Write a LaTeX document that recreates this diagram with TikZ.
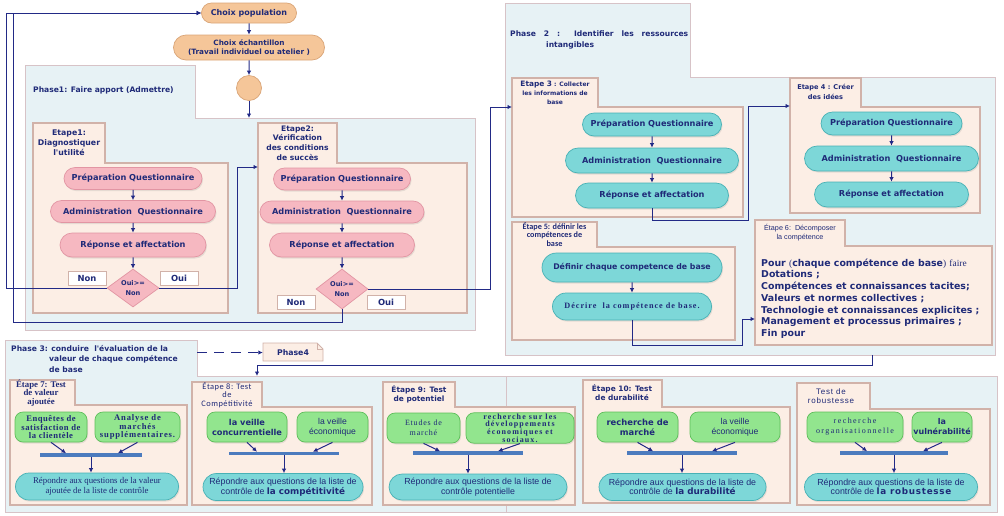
\documentclass[tikz,border=0pt]{standalone}
\usepackage{fontspec}
\setmainfont{Liberation Serif}
\setsansfont{Liberation Sans}
\newfontfamily\vsans{DejaVu Sans}
\newfontfamily\csans{Carlito}
\usetikzlibrary{shapes.geometric, shapes.misc, arrows.meta, shadows}

\definecolor{navy}{HTML}{1F2A78}
\definecolor{linkblue}{HTML}{222A86}
\definecolor{peachfill}{HTML}{F5C699}
\definecolor{peachline}{HTML}{D9A477}
\definecolor{panelfill}{HTML}{E7F2F5}
\definecolor{panelline}{HTML}{D7C3C7}
\definecolor{etapefill}{HTML}{FCEEE5}
\definecolor{etapeline}{HTML}{D1B2A9}
\definecolor{pinkfill}{HTML}{F6B8C1}
\definecolor{pinkline}{HTML}{E295A3}
\definecolor{tealfill}{HTML}{7DD7D8}
\definecolor{tealline}{HTML}{48B1B5}
\definecolor{greenfill}{HTML}{92E58E}
\definecolor{greenline}{HTML}{5EBE5A}
\definecolor{barblue}{HTML}{4C7BBE}

\newcommand{\fsz}[2]{\fontsize{#1}{#2}\selectfont}
\newcommand{\lsp}[1]{\addfontfeature{LetterSpace=#1}}
\newcommand{\folder}[7]{\draw[#1] (#2,#3) -- (#4,#3) -- (#4,#5) -- (#6,#5) -- (#6,#7) -- (#2,#7) -- cycle;}

\tikzset{
    panel/.style={draw=panelline, fill=panelfill, line width=0.9pt},
    etape/.style={draw=etapeline, fill=etapefill, line width=1.3pt},
    tabtext/.style={text=navy, align=center, inner sep=0pt},
    phasetext/.style={text=navy, align=left, inner sep=0pt, font=\vsans\bfseries\fsz{7.6}{10.6}},
    peach/.style={rounded rectangle, draw=peachline, fill=peachfill, line width=0.7pt, text=navy, align=center, inner sep=1pt, font=\vsans\bfseries\fsz{8}{10}},
    pill/.style={rounded rectangle, line width=0.7pt, text=navy, align=center, inner sep=1pt, drop shadow={opacity=0.18, shadow xshift=1pt, shadow yshift=-1.5pt}},
    pinkpill/.style={pill, draw=pinkline, fill=pinkfill, minimum height=22pt, font=\vsans\bfseries\fsz{8.2}{10}},
    tealpill/.style={pill, draw=tealline, fill=tealfill, minimum height=24pt, font=\vsans\bfseries\fsz{8.2}{10}},
    answerpill/.style={pill, draw=tealline, fill=tealfill, minimum height=26pt, font=\sffamily\fsz{8.8}{9.6}},
    greenbox/.style={rectangle, rounded corners=8pt, draw=greenline, fill=greenfill, line width=0.7pt, text=navy, align=center, inner sep=1pt, minimum height=30pt, drop shadow={opacity=0.18, shadow xshift=1pt, shadow yshift=-1.5pt}},
    choice/.style={diamond, draw=pinkline, fill=pinkfill, line width=0.7pt, minimum width=52pt, minimum height=38pt, inner sep=0pt},
    choicetext/.style={text=navy, align=center, inner sep=0pt, font=\vsans\bfseries\fsz{6.6}{9.5}},
    answer/.style={draw=etapeline, fill=white, text=navy, line width=0.6pt, minimum width=38pt, minimum height=14pt, inner sep=0pt, font=\vsans\bfseries\fsz{8.4}{10}},
    bar/.style={fill=barblue, minimum height=3.2pt, inner sep=0pt},
    link/.style={draw=linkblue, line width=1pt, -{Latex[length=4.5pt, width=4.5pt]}},
}

\begin{document}
\begin{tikzpicture}[x=1pt, y=-1pt]
    \useasboundingbox (0,0) rectangle (1004,515);

    % phases and etapes
    \folder{panel}{25}{65}{195}{118}{475}{330}
    \folder{panel}{505}{3}{690}{77}{995}{355}
    \folder{panel}{5}{340}{197}{376}{997}{512}
    \draw[panelline, line width=0.9pt] (506,376) -- (506,512);
    \folder{etape}{33}{123}{105}{163}{228}{313}
    \folder{etape}{258}{123}{337}{163}{467}{313}
    \folder{etape}{512}{78}{598}{107}{743}{217}
    \folder{etape}{790}{78}{861}{107}{980}{213}
    \folder{etape}{512}{222}{597}{247}{735}{340}
    \folder{etape}{755}{220}{845}{246}{992}{345}
    \folder{etape}{10}{380}{75}{405}{187}{505}
    \folder{etape}{192}{382}{262}{407}{372}{505}
    \folder{etape}{383}{382}{455}{407}{575}{505}
    \folder{etape}{583}{380}{662}{407}{790}{503}
    \folder{etape}{797}{383}{870}{409}{990}{505}

    \node[phasetext, anchor=west] (ph1) at (33,90) {Phase1: Faire apport (Admettre)};
    \node[phasetext, anchor=north west] (ph2) at (510,31) {\makebox[178pt][s]{Phase 2 : Identifier les ressources}\\\hspace*{36pt}intangibles};
    \node[phasetext, anchor=north west] (ph3) at (11,345) {Phase 3: conduire\ \ l'évaluation de la\\\hspace*{38pt}valeur de chaque compétence\\\hspace*{38pt}de base};

    \node[tabtext, font=\vsans\bfseries\fsz{7.8}{10}] (t1) at (69,143) {Etape1:\\Diagnostiquer\\l'utilité};
    \node[tabtext, font=\vsans\bfseries\fsz{7.6}{9.8}] (t2) at (297.5,143) {Etape2:\\Vérification\\des conditions\\de succès};
    \node[tabtext, font=\vsans\bfseries\fsz{6}{8.8}] (t3) at (555,92.5) {{\fsz{7.4}{8.8}Etape 3} : Collecter\\les informations de\\base};
    \node[tabtext, font=\vsans\bfseries\fsz{6.6}{9.2}] (t4) at (825.5,92) {Etape 4 : Créer\\des idées};
    \node[tabtext, font=\csans\bfseries\fsz{8.2}{8.6}] (t5) at (554.5,234.5) {Étape 5: définir les\\compétences de\\base};
    \node[tabtext, font=\sffamily\fsz{7.2}{9}] (t6) at (800,233) {Étape 6:\ \ Décomposer\\la compétence};
    \node[tabtext, font=\rmfamily\bfseries\fsz{8.8}{8.2}] (t7) at (41,393) {Étape 7: Test\\de valeur\\ajoutée};
    \node[tabtext, font=\csans\fsz{8.4}{8.3}\lsp{6}] (t8) at (227,395) {Étape 8: Test\\de\\Compétitivité};
    \node[tabtext, font=\vsans\bfseries\fsz{7.4}{9}] (t9) at (419,394) {Étape 9: Test\\de potentiel};
    \node[tabtext, font=\vsans\bfseries\fsz{7.4}{9}] (t10) at (622,393) {Étape 10: Test\\de durabilité};
    \node[tabtext, font=\sffamily\fsz{8}{9.5}\lsp{10}] (t11) at (831,396) {Test de\\robustesse};

    % choix
    \node[peach, minimum width=97pt, minimum height=20pt] (pop) at (249,13) {Choix population};
    \node[peach, minimum width=153pt, minimum height=25pt, font=\vsans\bfseries\fsz{7.3}{9.6}] (ech) at (249,47.5) {Choix échantillon\\(Travail individuel ou atelier )};
    \node[circle, draw=peachline, fill=peachfill, line width=0.7pt, minimum size=25pt, inner sep=0pt] (circ) at (249,88) {};
    \coordinate (ph1in) at (249,118);

    % etape 1 et 2
    \node[pinkpill, minimum width=140pt] (prep1) at (133,178.5) {Préparation Questionnaire};
    \node[pinkpill, minimum width=167pt] (admin1) at (133,211.5) {Administration\ \ Questionnaire};
    \node[pinkpill, minimum width=148pt, minimum height=24pt] (rep1) at (133,245) {Réponse et affectation};
    \node[choice] (dec1) at (133,288) {};
    \node[choicetext] (dec1t) at (dec1) {Oui>=\\Non};
    \node[answer] (non1) at (87,278) {Non};
    \node[answer] (oui1) at (179,278) {Oui};

    \node[pinkpill, minimum width=139pt] (prep2) at (342,179) {Préparation Questionnaire};
    \node[pinkpill, minimum width=166pt] (admin2) at (342,212) {Administration\ \ Questionnaire};
    \node[pinkpill, minimum width=147pt, minimum height=24pt] (rep2) at (342,245) {Réponse et affectation};
    \node[choice, minimum height=40pt] (dec2) at (342,289) {};
    \node[choicetext] (dec2t) at (dec2) {Oui>=\\Non};
    \node[answer] (non2) at (296,302) {Non};
    \node[answer] (oui2) at (386,302) {Oui};

    % etape 3 a 6
    \node[tealpill, minimum width=141pt, minimum height=23pt] (prep3) at (652,124.5) {Préparation Questionnaire};
    \node[tealpill, minimum width=175pt, minimum height=25pt] (admin3) at (652,160.5) {Administration\ \ Questionnaire};
    \node[tealpill, minimum width=155pt, minimum height=25pt] (rep3) at (652,195.5) {Réponse et affectation};

    \node[tealpill, minimum width=143pt, minimum height=23pt] (prep4) at (891.5,123.5) {Préparation Questionnaire};
    \node[tealpill, minimum width=176pt, minimum height=25pt] (admin4) at (891.5,158.5) {Administration\ \ Questionnaire};
    \node[tealpill, minimum width=156pt, minimum height=25pt] (rep4) at (891.5,194.5) {Réponse et affectation};

    \node[tealpill, minimum width=182pt, minimum height=29pt, font=\vsans\bfseries\fsz{7.8}{10}] (def5) at (632,267.5) {Définir chaque competence de base};
    \node[tealpill, minimum width=161pt, minimum height=27pt, font=\rmfamily\bfseries\fsz{8.2}{10}\lsp{12}] (des5) at (632,306.5) {Décrire\ \ la compétence de base.};

    \node[anchor=north west, align=left, text=navy, inner sep=0pt, font=\vsans\bfseries\fsz{9.4}{11.7}] (dec6) at (761,258.5) {Pour {\rmfamily\mdseries(}chaque compétence de base{\rmfamily\mdseries)} {\rmfamily\mdseries faire}\\Dotations ;\\Compétences et connaissances tacites;\\Valeurs et normes collectives ;\\Technologie et connaissances explicites ;\\Management et processus primaires ;\\Fin pour};

    % phase 3
    \draw[etapeline, fill=etapefill, line width=0.8pt] (263,343) -- (317,343) -- (323,349) -- (323,361) -- (263,361) -- cycle;
    \draw[etapeline, line width=0.6pt] (317,343) -- (317,349) -- (323,349);
    \node[minimum width=60pt, minimum height=17pt, inner sep=0pt, text=navy, font=\vsans\bfseries\fsz{7.8}{10}] (ph4) at (293,352.5) {Phase4};
    \coordinate (ph3out) at (197,352.5);

    \node[greenbox, minimum width=72pt, font=\rmfamily\bfseries\fsz{8.6}{7.8}\lsp{6}] (g7a) at (51,427) {Enquêtes de\\satisfaction de\\la clientèle};
    \node[greenbox, minimum width=85pt, font=\rmfamily\bfseries\fsz{8.6}{7.8}\lsp{10}] (g7b) at (137.5,427) {Analyse de\\marchés\\supplémentaires.};
    \node[bar, minimum width=102pt] (bar7) at (91,455) {};
    \node[answerpill, minimum width=165pt, minimum height=27pt, font=\rmfamily\fsz{8.8}{9.4}] (q7) at (97,486.5) {Répondre aux questions de la valeur\\ajoutée de la liste de contrôle};

    \node[greenbox, minimum width=80pt, font=\vsans\bfseries\fsz{8.2}{10}] (g8a) at (247,427) {la veille\\concurrentielle};
    \node[greenbox, minimum width=71pt, font=\sffamily\fsz{8.6}{10}] (g8b) at (332.5,427) {la veille\\économique};
    \node[bar, minimum width=110pt] (bar8) at (284,453.5) {};
    \node[answerpill, minimum width=162pt, minimum height=27pt] (q8) at (283,487) {Répondre aux questions de la liste de\\contrôle de {\vsans\bfseries la compétitivité}};

    \node[greenbox, minimum width=73pt, font=\rmfamily\fsz{8}{10.5}\lsp{10}] (g9a) at (423.5,428) {Etudes de\\marché};
    \node[greenbox, minimum width=108pt, font=\rmfamily\bfseries\fsz{8}{7.6}\lsp{14}] (g9b) at (520,428) {recherche sur les\\développements\\économiques et\\sociaux.};
    \node[bar, minimum width=110pt] (bar9) at (468,453) {};
    \node[answerpill, minimum width=180pt] (q9) at (478,487) {Répondre aux questions de la liste de\\contrôle potentielle};

    \node[greenbox, minimum width=81pt, font=\vsans\bfseries\fsz{8.4}{10}] (g10a) at (637.5,427) {recherche de\\marché};
    \node[greenbox, minimum width=90pt, font=\sffamily\fsz{8.6}{10}] (g10b) at (735,427) {la veille\\économique};
    \node[bar, minimum width=110pt] (bar10) at (682,453) {};
    \node[answerpill, minimum width=169pt, minimum height=27pt] (q10) at (682.5,487) {Répondre aux questions de la liste de\\contrôle de {\vsans\bfseries la durabilité}};

    \node[greenbox, minimum width=96pt, font=\rmfamily\fsz{8}{10}\lsp{18}] (g11a) at (855,427) {recherche\\organisationnelle};
    \node[greenbox, minimum width=60pt, font=\vsans\bfseries\fsz{8}{10}] (g11b) at (942,427) {la\\vulnérabilité};
    \node[bar, minimum width=108pt] (bar11) at (894,453) {};
    \node[answerpill, minimum width=175pt, minimum height=27pt] (q11) at (891,487) {Répondre aux questions de la liste de\\contrôle de {\vsans\bfseries\lsp{8}la robustesse}};

    % liens
    \foreach \a/\b in {pop/ech, ech/circ, circ/ph1in, prep1/admin1, admin1/rep1, rep1/dec1,
        prep2/admin2, admin2/rep2, rep2/dec2, prep3/admin3, admin3/rep3,
        prep4/admin4, admin4/rep4, def5/des5}
        \draw[link] (\a) -- (\b);

    \coordinate (e2in) at (258,167);
    \coordinate (e3in) at (512,107);
    \coordinate (e4in) at (790,106);
    \coordinate (e6in) at (755,319);
    \coordinate (p2out) at (872,355);
    \coordinate (p3in) at (257,376);
    \draw[link] (dec1.west) -- ++(-100,0) |- (pop.west);
    \draw[link] (dec2.south) |- (13,322) |- (pop.west);
    \draw[link] (dec1.east) -- ++(78,0) |- (e2in);
    \draw[link] (dec2.east) -- ++(122,0) |- (e3in);
    \draw[link] (rep3.south) |- (748,220) |- (e4in);
    \draw[link] (des5.south) |- (742,345) |- (e6in);
    \draw[link] (p2out) -- ++(0,10) -| (p3in);
    \draw[link, dash pattern=on 10pt off 7pt] (ph3out) -- (ph4.west);

    \draw[link] (g7a.south) -- ([xshift=-25pt]bar7.north);
    \draw[link] (g7b.south) -- ([xshift=27pt]bar7.north);
    \draw[link] (g8a.south) -- ([xshift=-27pt]bar8.north);
    \draw[link] (g8b.south) -- ([xshift=29pt]bar8.north);
    \draw[link] (g9a.south) -- ([xshift=-28pt]bar9.north);
    \draw[link] (g9b.south) -- ([xshift=30pt]bar9.north);
    \draw[link] (g10a.south) -- ([xshift=-29pt]bar10.north);
    \draw[link] (g10b.south) -- ([xshift=30pt]bar10.north);
    \draw[link] (g11a.south) -- ([xshift=-27pt]bar11.north);
    \draw[link] (g11b.south) -- ([xshift=29pt]bar11.north);
    \foreach \b/\q in {bar7/q7, bar8/q8, bar9/q9, bar10/q10, bar11/q11}
        \draw[link] (\b.south) -- (\b.south |- \q.north);
\end{tikzpicture}
\end{document}
